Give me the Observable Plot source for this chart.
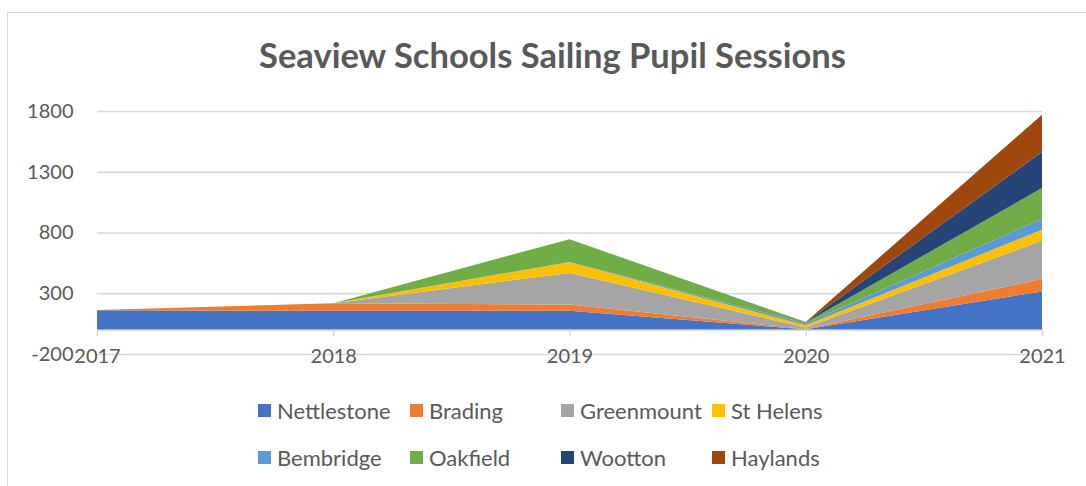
<!DOCTYPE html>
<html>
<head>
<meta charset="utf-8">
<script src="https://cdn.jsdelivr.net/npm/d3@7"></script>
<script src="https://cdn.jsdelivr.net/npm/@observablehq/plot@0.6"></script>
<style>
  html, body { margin: 0; padding: 0; background: #fff; }
  #wrap { position: relative; width: 1086px; height: 486px; overflow: hidden; font-family: Lato, "Open Sans", sans-serif; color: #595959; }
  #frame { position: absolute; left: 7px; top: 12px; width: 1200px; height: 600px; border: 1px solid #d9d9d9; box-sizing: border-box; }
  #title { position: absolute; left: 0; top: 34px; width: 1105px; text-align: center; font-weight: bold; font-size: 34.5px; line-height: 42px; color: #595959; }
  #chart { position: absolute; left: 0; top: 90px; }
  #legend { position: absolute; left: 258px; top: 387px; display: grid; grid-template-columns: 152px 151px 151px 151px; grid-auto-rows: 47px; align-items: center; font-size: 22px; }
  .item { display: flex; align-items: center; white-space: nowrap; }
  .sw { width: 13px; height: 13px; margin-right: 6px; flex: none; }
</style>
</head>
<body>
<div id="wrap">
  <div id="frame"></div>
  <div id="title">Seaview Schools Sailing Pupil Sessions</div>
  <div id="chart"></div>
  <div id="legend"></div>
</div>
<script>
const years = [2017, 2018, 2019, 2020, 2021];
const schools = ["Nettlestone", "Brading", "Greenmount", "St Helens", "Bembridge", "Oakfield", "Wootton", "Haylands"];
const colors = ["#4472C4", "#ED7D31", "#A5A5A5", "#FFC000", "#5B9BD5", "#70AD47", "#264478", "#9E480E"];
const nettlestone = [160, 155, 155, 3, 315];
const brading     = [3, 63, 52, 3, 102];
const greenmount  = [0, 0, 260, 12, 315];
const stHelens    = [0, 0, 88, 18, 91];
const bembridge   = [0, 0, 3, 15, 90];
const oakfield    = [0, 0, 187, 8, 253];
const wootton     = [0, 0, 0, 2, 296];
const haylands    = [0, 0, 0, 2, 307];
const yTicks = [-200, 300, 800, 1300, 1800];

const series = [nettlestone, brading, greenmount, stHelens, bembridge, oakfield, wootton, haylands];
const data = [];
years.forEach((yr, i) => {
  schools.forEach((s, k) => data.push({year: yr, school: s, value: series[k][i]}));
});

const chart = Plot.plot({
  width: 1086,
  height: 290,
  marginLeft: 97,
  marginRight: 44,
  marginTop: 21,
  marginBottom: 26,
  style: { fontFamily: "Lato, 'Open Sans', sans-serif", fontSize: "20px", color: "#595959", background: "transparent" },
  x: { type: "linear", domain: [2017, 2021], axis: null },
  y: { domain: [-200, 1800], ticks: yTicks, tickSize: 0, tickPadding: 24, label: null, tickFormat: d => String(d) },
  color: { domain: schools, range: colors },
  marks: [
    Plot.ruleY(yTicks, { stroke: "#d9d9d9", strokeWidth: 1.5 }),
    Plot.areaY(data, { x: "year", y: "value", fill: "school", order: schools }),
    Plot.ruleY([0], { stroke: "#d9d9d9", strokeWidth: 1.5 }),
    Plot.ruleX(years, { x: d => d, y1: 0, y2: -55, stroke: "#d9d9d9", strokeWidth: 1.5 }),
    Plot.text(years, { x: d => d, y: -200, dy: 2, text: d => String(d), fill: "#595959", fontSize: 20 })
  ]
});
document.getElementById("chart").appendChild(chart);

const legend = document.getElementById("legend");
schools.forEach((s, k) => {
  const it = document.createElement("div");
  it.className = "item";
  const sw = document.createElement("span");
  sw.className = "sw";
  sw.style.background = colors[k];
  const tx = document.createElement("span");
  tx.textContent = s;
  it.appendChild(sw);
  it.appendChild(tx);
  legend.appendChild(it);
});
</script>
</body>
</html>
